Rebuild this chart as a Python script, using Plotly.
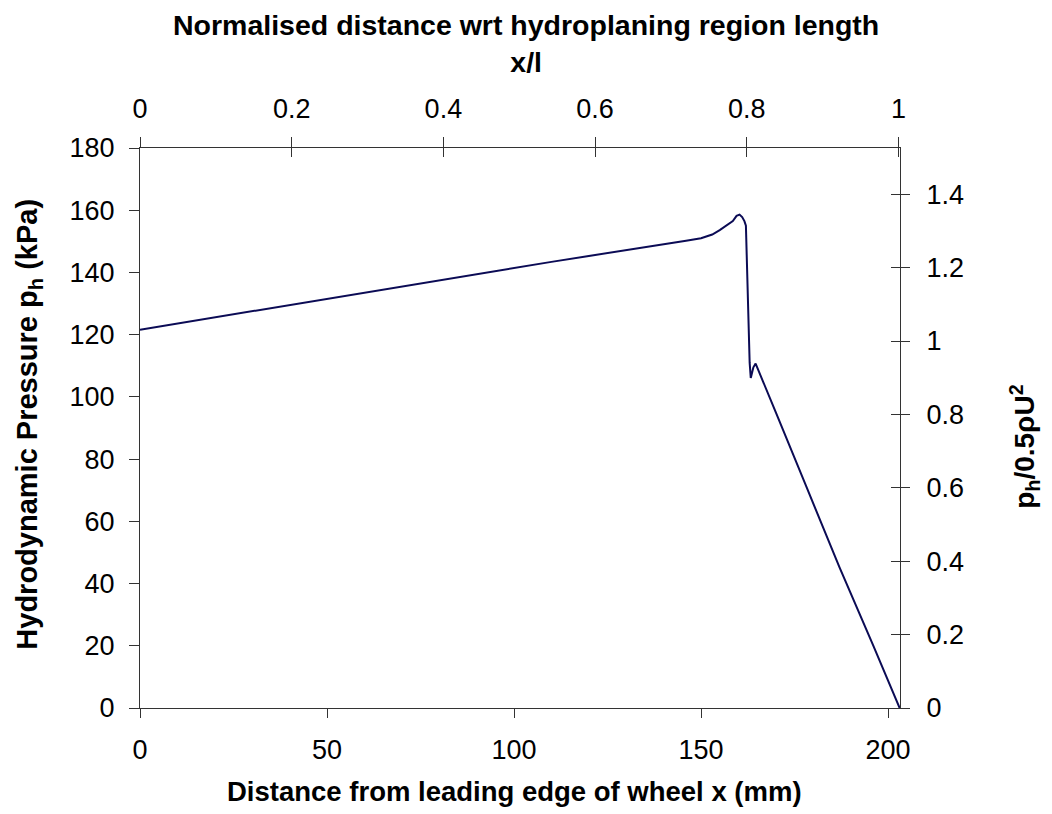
import plotly.graph_objects as go

# Data
distance_mm = [0, 10, 20, 30, 40, 50, 60, 70, 80, 90, 100, 110, 120, 130, 140,
               146, 150, 153, 155, 157, 158.5, 159.5, 160.3, 161.0, 161.6, 162.0,
               162.5, 163.0, 163.3, 164.0, 164.6, 167, 170, 178, 187, 196, 203.1]
pressure_kpa = [121.6, 123.6, 125.6, 127.6, 129.6, 131.5, 133.5, 135.5, 137.6, 139.6, 141.6,
                143.4, 145.3, 147.1, 148.9, 150.2, 151.0, 152.2, 153.6, 155.2, 156.5,
                158.2, 158.6, 157.8, 156.5, 155.0, 130.0, 111.0, 106.1, 109.5, 110.7,
                103.5, 95.0, 71.6, 45.3, 20.2, 0.0]

x_ticks_mm = [0, 50, 100, 150, 200]
y_ticks_kpa = [0, 20, 40, 60, 80, 100, 120, 140, 160, 180]
top_ticks = [0, 0.2, 0.4, 0.6, 0.8, 1]
right_ticks = [0, 0.2, 0.4, 0.6, 0.8, 1, 1.2, 1.4]

FONT = "Liberation Sans, Arial, sans-serif"
AX = "#333333"
TICKSIZE = 27

fig = go.Figure()
fig.add_trace(go.Scatter(x=distance_mm, y=pressure_kpa, mode="lines",
                         line=dict(color="#0b0b55", width=2), showlegend=False,
                         hoverinfo="skip"))
# invisible traces to host the secondary axes
fig.add_trace(go.Scatter(x=[0], y=[0], xaxis="x2", yaxis="y2", mode="markers",
                         marker=dict(opacity=0), showlegend=False, hoverinfo="skip"))
fig.add_trace(go.Scatter(x=[0], y=[0], xaxis="x3", yaxis="y3", mode="markers",
                         marker=dict(opacity=0), showlegend=False, hoverinfo="skip"))

common = dict(showgrid=False, zeroline=False, showline=True, linecolor=AX, linewidth=1,
              tickcolor=AX, tickwidth=1, tickfont=dict(family=FONT, size=TICKSIZE, color="black"))

fig.update_layout(
    width=1052, height=814,
    margin=dict(l=140, r=152, t=148, b=106),
    plot_bgcolor="white", paper_bgcolor="white",
    font=dict(family=FONT, color="black"),
    xaxis=dict(range=[0, 203.2], tickvals=x_ticks_mm, ticks="outside", ticklen=9,
               ticklabelstandoff=9, **common),
    yaxis=dict(range=[0, 180], tickvals=y_ticks_kpa, ticks="outside", ticklen=10,
               ticklabelstandoff=9, **common),
    xaxis2=dict(range=[0, 1.002], tickvals=top_ticks, side="top", anchor="y",
                overlaying="x", ticks="outside", ticklen=10, ticklabelstandoff=8, **common),
    yaxis2=dict(range=[0, 1.526], tickvals=right_ticks, side="right", anchor="x",
                overlaying="y", ticks="outside", ticklen=9, ticklabelstandoff=11, **common),
    xaxis3=dict(range=[0, 1.002], tickvals=top_ticks, side="top", anchor="y",
                overlaying="x", ticks="inside", ticklen=9, showticklabels=False,
                showgrid=False, zeroline=False, showline=False, tickcolor=AX),
    yaxis3=dict(range=[0, 1.526], tickvals=right_ticks, side="right", anchor="x",
                overlaying="y", ticks="inside", ticklen=9, showticklabels=False,
                showgrid=False, zeroline=False, showline=False, tickcolor=AX),
)

def tfont(size):
    return dict(family=FONT, size=size, color="black")

fig.add_annotation(text="<b>Distance from leading edge of wheel x (mm)</b>",
                   xref="paper", yref="paper", x=0.4925, y=-0.149, showarrow=False,
                   xanchor="center", yanchor="middle", font=tfont(27.5))
fig.add_annotation(text="<b>Normalised distance wrt hydroplaning region length</b><br><b>x/l</b>",
                   xref="paper", yref="paper", x=0.508, y=1.186, showarrow=False,
                   xanchor="center", yanchor="middle", font=tfont(28.5))
fig.add_annotation(text="<b>Hydrodynamic Pressure p<sub>h</sub> (kPa)</b>",
                   xref="paper", yref="paper", x=-0.146, y=0.506, showarrow=False,
                   xanchor="center", yanchor="middle", textangle=-90, font=tfont(29))
fig.add_annotation(text="<b>p<sub>h</sub>/0.5ρU<sup>2</sup></b>",
                   xref="paper", yref="paper", x=1.164, y=0.466, showarrow=False,
                   xanchor="center", yanchor="middle", textangle=-90, font=tfont(28))

fig.write_html("out.html")
